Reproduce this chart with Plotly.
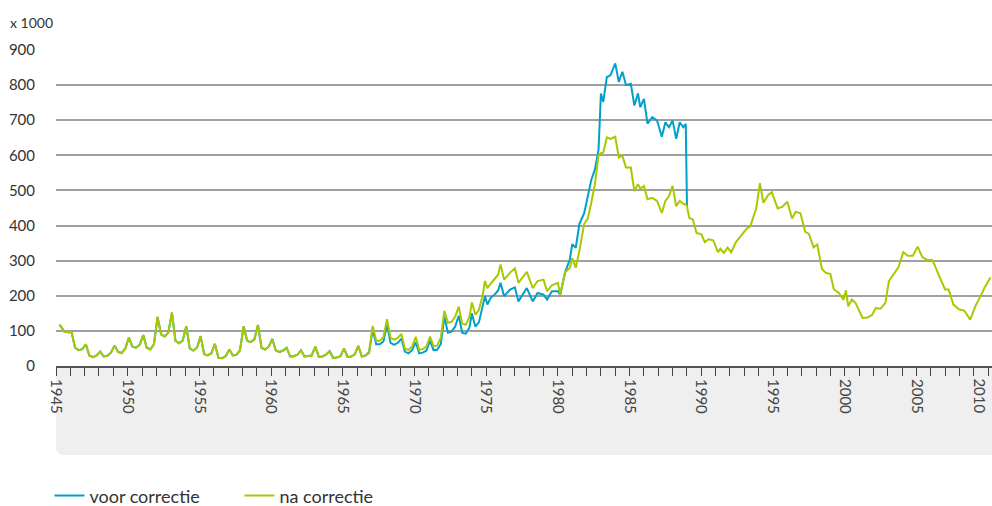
import plotly.graph_objects as go

# geregistreerde werkloosheid, x 1000
maand = [
    "1945-04", "1945-08", "1945-11",
    "1946-02", "1946-05", "1946-08", "1946-11",
    "1947-02", "1947-05", "1947-08", "1947-11",
    "1948-02", "1948-05", "1948-08", "1948-11",
    "1949-02", "1949-05", "1949-08", "1949-11",
    "1950-02", "1950-05", "1950-08", "1950-11",
    "1951-02", "1951-05", "1951-08", "1951-11",
    "1952-02", "1952-05", "1952-08", "1952-11",
    "1953-02", "1953-05", "1953-08", "1953-11",
    "1954-02", "1954-05", "1954-08", "1954-11",
    "1955-02", "1955-05", "1955-08", "1955-11",
    "1956-02", "1956-05", "1956-08", "1956-11",
    "1957-02", "1957-05", "1957-08", "1957-11",
    "1958-02", "1958-05", "1958-08", "1958-11",
    "1959-02", "1959-05", "1959-08", "1959-11",
    "1960-02", "1960-05", "1960-08", "1960-11",
    "1961-02", "1961-05", "1961-08", "1961-11",
    "1962-02", "1962-05", "1962-08", "1962-11",
    "1963-02", "1963-05", "1963-08", "1963-11",
    "1964-02", "1964-05", "1964-08", "1964-11",
    "1965-02", "1965-05", "1965-08", "1965-11",
    "1966-02", "1966-05", "1966-08", "1966-11",
    "1967-02", "1967-05", "1967-08", "1967-11",
    "1968-02", "1968-05", "1968-08", "1968-11",
    "1969-02", "1969-05", "1969-08", "1969-11",
    "1970-02", "1970-05", "1970-08", "1970-11",
    "1971-02", "1971-05", "1971-08", "1971-11",
    "1972-02", "1972-05", "1972-08", "1972-11",
    "1973-02", "1973-05", "1973-08", "1973-11",
    "1974-01", "1974-04", "1974-07", "1974-10", "1974-12",
    "1975-02", "1975-05", "1975-08", "1975-11",
    "1976-01", "1976-04", "1976-09",
    "1977-01", "1977-04", "1977-07", "1977-11",
    "1978-04", "1978-08",
    "1979-01", "1979-04", "1979-08",
    "1980-01", "1980-03", "1980-07", "1980-11",
    "1981-01", "1981-04", "1981-07", "1981-11",
    "1982-02", "1982-05", "1982-08", "1982-11",
    "1983-01", "1983-03", "1983-06", "1983-09",
    "1984-01", "1984-04", "1984-07", "1984-10",
    "1985-02", "1985-05", "1985-08", "1985-10",
    "1986-01", "1986-04", "1986-08", "1986-12",
    "1987-04", "1987-07", "1987-10",
    "1988-01", "1988-04", "1988-07", "1988-10", "1988-12",
    "1989-01", "1989-03", "1989-06", "1989-09",
    "1990-01", "1990-04", "1990-07", "1990-11",
    "1991-03", "1991-05", "1991-08", "1991-11",
    "1992-02", "1992-06",
    "1993-03", "1993-06", "1993-11",
    "1994-02", "1994-05", "1994-09", "1994-12",
    "1995-05", "1995-09",
    "1996-01", "1996-05", "1996-08", "1996-12",
    "1997-04", "1997-07", "1997-11",
    "1998-02", "1998-06", "1998-09",
    "1999-01", "1999-04", "1999-08", "1999-12",
    "2000-02", "2000-04", "2000-07", "2000-10",
    "2001-04", "2001-08", "2001-12",
    "2002-03", "2002-07", "2002-11",
    "2003-02", "2003-06", "2003-10",
    "2004-02", "2004-06", "2004-10",
    "2005-02", "2005-06", "2005-10",
    "2006-02", "2006-04", "2006-08",
    "2007-01", "2007-04", "2007-08",
    "2008-01", "2008-05", "2008-10",
    "2009-03", "2009-06", "2009-10",
    "2010-03",
]

na_correctie = [
    118, 98, 96,
    97, 52, 45, 48,
    62, 30, 25, 30,
    41, 27, 29, 38,
    58, 40, 37, 50,
    81, 55, 52, 60,
    88, 52, 47, 62,
    140, 90, 84, 95,
    152, 72, 65, 72,
    113, 50, 44, 52,
    85, 34, 30, 36,
    63, 23, 22, 28,
    47, 30, 32, 45,
    113, 72, 68, 76,
    117, 52, 47, 55,
    77, 44, 40, 44,
    52, 27, 28, 32,
    45, 27, 28, 30,
    55, 26, 27, 32,
    42, 23, 24, 28,
    50, 26, 27, 33,
    57, 27, 30, 40,
    114, 72, 72, 82,
    133, 80, 75, 80,
    91, 50, 46, 55,
    83, 46, 48, 55,
    84, 57, 58, 80,
    157, 123, 126, 140,
    169, 120, 118, 140,
    181, 146, 160, 200, 242,
    222, 235, 246, 260,
    289, 246, 266,
    278, 237, 250, 268,
    222, 242,
    246, 213, 230,
    237, 203, 266, 280,
    307, 280, 328, 405,
    420, 465, 518, 600,
    606, 608, 651, 647,
    653, 594, 599, 565,
    565, 498, 518, 505,
    513, 475, 479, 470,
    436, 470, 484,
    513, 455, 470, 462, 460,
    455, 422, 417, 379,
    375, 353, 361, 358,
    324, 334, 322, 337,
    324, 353,
    391, 398, 449,
    521, 465, 487, 495,
    449, 454,
    468, 420, 439, 435,
    382, 377, 338,
    346, 276, 266,
    262, 218, 209, 189,
    215, 170, 189, 180,
    137, 138, 146,
    165, 163, 180,
    242, 262, 281,
    324, 314, 314,
    340, 310, 302,
    302, 290, 257,
    218, 218, 175,
    161, 158, 132,
    175, 194, 223,
    252,
]

voor_correctie = [
    118, 98, 96,
    97, 52, 45, 48,
    62, 30, 25, 30,
    41, 27, 29, 38,
    58, 40, 37, 50,
    81, 55, 52, 60,
    88, 52, 47, 62,
    140, 90, 84, 95,
    152, 72, 65, 72,
    113, 50, 44, 52,
    85, 34, 30, 36,
    63, 23, 22, 28,
    47, 30, 32, 45,
    113, 72, 68, 76,
    117, 52, 47, 55,
    77, 44, 40, 44,
    52, 27, 28, 32,
    45, 27, 28, 30,
    55, 26, 27, 32,
    42, 23, 24, 28,
    50, 26, 27, 33,
    57, 27, 30, 38,
    104, 62, 62, 70,
    118, 66, 60, 66,
    78, 41, 36, 45,
    68, 36, 38, 44,
    72, 45, 46, 62,
    140, 95, 98, 112,
    143, 94, 92, 110,
    150, 112, 125, 165, 199,
    175, 195, 203, 215,
    237, 199, 218,
    224, 184, 200, 222,
    184, 208,
    203, 189, 213,
    213, 203, 266, 304,
    347, 337, 404, 435,
    488, 530, 560, 615,
    776, 752, 823, 828,
    862, 809, 838, 800,
    804, 742, 776, 737,
    761, 690, 709, 699,
    653, 694, 680,
    699, 647, 694, 680, 690,
    455,
]

jaren = ["1945", "1950", "1955", "1960", "1965", "1970", "1975",
         "1980", "1985", "1990", "1995", "2000", "2005", "2010"]

fig = go.Figure()
fig.add_trace(go.Scatter(x=maand[:len(voor_correctie)], y=voor_correctie,
                         mode="lines", name="voor correctie",
                         line=dict(color="#00a0cc", width=2)))
fig.add_trace(go.Scatter(x=maand, y=na_correctie, mode="lines",
                         name="na correctie",
                         line=dict(color="#aac800", width=2)))

# grijze band onder de x-as
fig.add_shape(type="path", xref="paper", yref="paper", layer="below",
              path="M 0,0 L 1,0 L 1,-0.2816 L 0.0085,-0.2816 "
                   "Q 0,-0.2816 0,-0.2563 Z",
              fillcolor="#efefef", line=dict(width=0))

fig.add_annotation(text="x 1000", xref="paper", yref="paper", x=0, y=1,
                   xanchor="left", yanchor="middle", xshift=-48, yshift=28,
                   showarrow=False, font=dict(size=14, color="#333333"))

# laatste jaarlabel valt tegen de rand; plotly laat het anders weg
fig.add_annotation(text=jaren[-1], x=jaren[-1] + "-01-01", xref="x",
                   yref="paper", y=0, yshift=-10, xshift=-8, yanchor="top",
                   xanchor="center", textangle=90, showarrow=False,
                   font=dict(size=15, color="#444444"))

fig.update_layout(
    width=992, height=506,
    margin=dict(l=56, r=0, t=50, b=140),
    plot_bgcolor="white", paper_bgcolor="white",
    font=dict(family="Lato", size=14, color="#333333"),
    showlegend=True,
    legend=dict(orientation="h", x=-0.007, xanchor="left",
                yref="container", y=0.02, yanchor="middle",
                entrywidth=145, entrywidthmode="pixels",
                font=dict(size=18, color="#333333"), traceorder="normal"),
    xaxis=dict(type="date", range=["1945-01-01", "2010-04-10"],
               tickmode="array", tickvals=[j + "-01-01" for j in jaren[:-1]],
               ticktext=jaren[:-1], tickangle=90, automargin=False,
               ticks="outside", ticklen=8, tickcolor="#444444", tickwidth=1,
               minor=dict(dtick="M12", tick0="1945-01-01", ticks="outside",
                          ticklen=8, tickcolor="#444444", tickwidth=1,
                          showgrid=False),
               showgrid=False, showline=True, linecolor="#555555",
               linewidth=2, zeroline=False,
               tickfont=dict(size=15, color="#444444")),
    yaxis=dict(range=[0, 900], dtick=100, showgrid=True, automargin=False,
               gridcolor="#a0a0a0", gridwidth=1.5, zeroline=False,
               showline=False, ticks="", ticklabelstandoff=20,
               tickfont=dict(size=15, color="#333333")),
)

fig.write_html("out.html", config={"displayModeBar": False},
               post_script="document.body.style.margin='0';"
                           "document.body.style.overflow='hidden';")
